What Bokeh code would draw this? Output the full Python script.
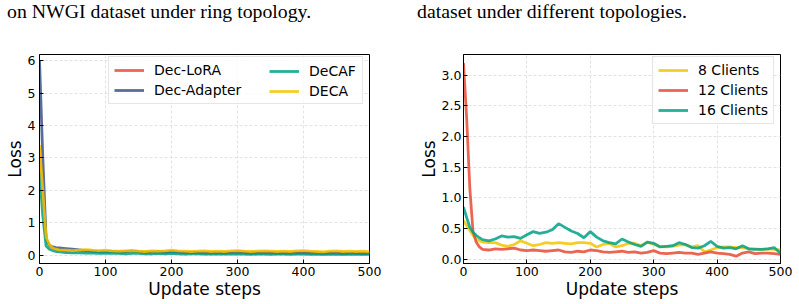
from bokeh.plotting import figure
from bokeh.layouts import row, column
from bokeh.models import Legend, LegendItem, Div, Range1d, FixedTicker
from bokeh.embed import file_html
from bokeh.resources import INLINE

# ---------------------------------------------------------------- data
STEPS = [0, 5, 10, 15, 20, 25, 30] + list(range(40, 501, 10))

# Left panel: methods on NWGI, ring topology
DEC_LORA = [3.3, 1.9, 0.5, 0.3, 0.21, 0.17, 0.15,
            0.13, 0.12, 0.13, 0.14, 0.12, 0.11, 0.12, 0.11, 0.10, 0.11,
            0.12, 0.10, 0.09, 0.10, 0.11, 0.10, 0.12, 0.10, 0.09, 0.08,
            0.09, 0.10, 0.08, 0.09, 0.08, 0.09, 0.11, 0.10, 0.08, 0.09,
            0.10, 0.09, 0.08, 0.09, 0.08, 0.09, 0.10, 0.09, 0.08, 0.07,
            0.08, 0.09, 0.08, 0.07, 0.08, 0.07, 0.07]
DEC_ADAPTER = [6.0, 3.0, 0.5, 0.3, 0.25, 0.23, 0.22,
               0.20, 0.18, 0.16, 0.14, 0.12, 0.10, 0.10, 0.11, 0.09, 0.10,
               0.12, 0.11, 0.08, 0.09, 0.10, 0.08, 0.10, 0.09, 0.07, 0.08,
               0.08, 0.06, 0.07, 0.06, 0.05, 0.07, 0.08, 0.06, 0.05, 0.06,
               0.07, 0.06, 0.05, 0.06, 0.05, 0.06, 0.07, 0.05, 0.05, 0.04,
               0.06, 0.05, 0.04, 0.05, 0.05, 0.04, 0.05]
DECAF = [2.6, 1.2, 0.28, 0.18, 0.14, 0.11, 0.10,
         0.08, 0.07, 0.07, 0.06, 0.06, 0.05, 0.06, 0.05, 0.05, 0.04,
         0.05, 0.05, 0.04, 0.04, 0.05, 0.04, 0.05, 0.04, 0.03, 0.04,
         0.04, 0.03, 0.03, 0.04, 0.03, 0.03, 0.04, 0.03, 0.02, 0.03,
         0.03, 0.02, 0.03, 0.03, 0.02, 0.03, 0.03, 0.02, 0.02, 0.03,
         0.02, 0.02, 0.02, 0.03, 0.02, 0.02, 0.02]
DECA = [3.4, 2.0, 0.55, 0.32, 0.22, 0.18, 0.16,
        0.15, 0.14, 0.15, 0.17, 0.15, 0.14, 0.15, 0.13, 0.12, 0.13,
        0.14, 0.12, 0.11, 0.13, 0.12, 0.13, 0.15, 0.13, 0.12, 0.11,
        0.12, 0.13, 0.11, 0.12, 0.11, 0.13, 0.14, 0.12, 0.11, 0.12,
        0.13, 0.12, 0.11, 0.12, 0.11, 0.13, 0.14, 0.12, 0.11, 0.10,
        0.12, 0.13, 0.11, 0.12, 0.11, 0.12, 0.10]

# Right panel: DECA with different numbers of clients
CLIENTS_8 = [0.63, 0.55, 0.47, 0.39, 0.33, 0.30, 0.28,
             0.27, 0.27, 0.23, 0.21, 0.24, 0.30, 0.26, 0.22, 0.24, 0.27,
             0.26, 0.27, 0.26, 0.25, 0.27, 0.27, 0.26, 0.20, 0.24, 0.26,
             0.20, 0.22, 0.26, 0.26, 0.22, 0.28, 0.24, 0.21, 0.20, 0.21,
             0.23, 0.24, 0.20, 0.22, 0.12, 0.15, 0.19, 0.20, 0.20, 0.19,
             0.19, 0.17, 0.17, 0.16, 0.17, 0.16, 0.15]
CLIENTS_12 = [3.2, 2.3, 1.15, 0.45, 0.28, 0.20, 0.16,
              0.15, 0.17, 0.16, 0.17, 0.18, 0.15, 0.14, 0.15, 0.14, 0.13,
              0.14, 0.15, 0.12, 0.11, 0.13, 0.12, 0.15, 0.14, 0.12, 0.11,
              0.12, 0.13, 0.11, 0.12, 0.10, 0.11, 0.14, 0.10, 0.09, 0.10,
              0.11, 0.10, 0.10, 0.08, 0.10, 0.12, 0.10, 0.09, 0.08, 0.05,
              0.10, 0.12, 0.09, 0.10, 0.10, 0.09, 0.08]
CLIENTS_16 = [0.85, 0.68, 0.52, 0.44, 0.39, 0.35, 0.32,
              0.30, 0.33, 0.38, 0.36, 0.37, 0.34, 0.40, 0.45, 0.42, 0.44,
              0.48, 0.58, 0.52, 0.46, 0.42, 0.35, 0.45, 0.36, 0.30, 0.27,
              0.25, 0.33, 0.28, 0.24, 0.21, 0.28, 0.26, 0.20, 0.21, 0.22,
              0.27, 0.24, 0.19, 0.18, 0.22, 0.29, 0.21, 0.18, 0.19, 0.17,
              0.22, 0.17, 0.16, 0.16, 0.17, 0.19, 0.10]

X_TICKS = [0, 100, 200, 300, 400, 500]
LEFT_Y_TICKS = [0, 1, 2, 3, 4, 5, 6]
RIGHT_Y_TICKS = [0.0, 0.5, 1.0, 1.5, 2.0, 2.5, 3.0]

LEFT_CAPTION = "on NWGI dataset under ring topology."
RIGHT_CAPTION = "dataset under different topologies."

RED = "#E64B35"
BLUE = "#3C5488"
TEAL = "#00A087"
YELLOW = "#F5C400"

FONT = "DejaVu Sans"
CAPTION_H = 40


def make_panel(width, y_range, yticks, yfmt, border_left, border_right):
    p = figure(width=width, height=304 - CAPTION_H, output_backend="svg",
               toolbar_location=None,
               x_range=Range1d(0, 500), y_range=Range1d(*y_range),
               min_border_left=border_left, min_border_right=border_right,
               min_border_top=54 - CAPTION_H, min_border_bottom=41)
    p.background_fill_color = "white"
    p.border_fill_color = "white"
    p.outline_line_color = "black"
    p.outline_line_width = 1
    p.outline_line_alpha = 1

    p.xaxis.ticker = FixedTicker(ticks=X_TICKS)
    p.yaxis.ticker = FixedTicker(ticks=yticks)
    p.yaxis.major_label_overrides = {t: yfmt.format(t) for t in yticks}

    for ax in (p.xaxis[0], p.yaxis[0]):
        ax.major_tick_in = 4
        ax.major_tick_out = 0
        ax.minor_tick_line_color = None
        ax.axis_line_color = "black"
        ax.major_tick_line_color = "black"
        ax.major_label_text_font = FONT
        ax.major_label_text_font_size = "12.5px"
        ax.major_label_text_color = "black"
        ax.axis_label_text_font = FONT
        ax.axis_label_text_font_size = "17px"
        ax.axis_label_text_font_style = "normal"
        ax.axis_label_text_color = "black"

    p.xaxis.axis_label = "Update steps"
    p.yaxis.axis_label = "Loss"
    p.xaxis.major_label_standoff = 3
    p.xaxis.axis_label_standoff = 0
    p.yaxis.axis_label_standoff = 0

    p.grid.grid_line_color = "#e2e2e2"
    p.grid.grid_line_dash = "3 2"
    p.grid.grid_line_width = 1
    return p


def legend_box(items, loc, label_width=20, visible_box=True):
    lg = Legend(items=items, location=loc, orientation="vertical",
                label_text_font=FONT, label_text_font_size="14px",
                label_text_color="black",
                glyph_width=30, glyph_height=16, label_height=16,
                label_standoff=10, label_width=label_width,
                padding=5, spacing=4, margin=0)
    if visible_box:
        lg.border_line_color = "#cccccc"
        lg.border_line_width = 1
        lg.background_fill_color = "white"
        lg.background_fill_alpha = 0.8
    else:
        lg.border_line_alpha = 0
        lg.background_fill_alpha = 0
    return lg


def caption(text, width, indent):
    return Div(text=text, width=width, height=CAPTION_H, margin=0,
               styles={"font-family": "'Liberation Serif'",
                       "font-size": "19.8px",
                       "line-height": "22px",
                       "padding-left": f"{indent}px",
                       "box-sizing": "border-box",
                       "white-space": "nowrap",
                       "color": "black",
                       "background": "white"})


# ---------------------------------------------------------------- left panel
left = make_panel(400, (-0.26, 6.19), LEFT_Y_TICKS, "{:d}", 39, 31)
left.yaxis.major_label_standoff = 4
lw, la = 2.8, 0.85
r_lora = left.line(STEPS, DEC_LORA, color=RED, line_width=lw, line_alpha=la)
r_adapter = left.line(STEPS, DEC_ADAPTER, color=BLUE, line_width=lw, line_alpha=la)
r_decaf = left.line(STEPS, DECAF, color=TEAL, line_width=lw, line_alpha=la)
r_deca = left.line(STEPS, DECA, color=YELLOW, line_width=lw, line_alpha=la)

left.add_layout(legend_box([LegendItem(label="Dec-LoRA", renderers=[r_lora]),
                            LegendItem(label="Dec-Adapter", renderers=[r_adapter])],
                           (69, 159), label_width=203))
left.add_layout(legend_box([LegendItem(label="DeCAF", renderers=[r_decaf]),
                            LegendItem(label="DECA", renderers=[r_deca])],
                           (225, 159), visible_box=False))

# ---------------------------------------------------------------- right panel
right = make_panel(399, (-0.07, 3.34), RIGHT_Y_TICKS, "{:.1f}", 63, 19)
right.yaxis.major_label_standoff = 2
r8 = right.line(STEPS, CLIENTS_8, color=YELLOW, line_width=lw, line_alpha=la)
r12 = right.line(STEPS, CLIENTS_12, color=RED, line_width=lw, line_alpha=la)
r16 = right.line(STEPS, CLIENTS_16, color=TEAL, line_width=lw, line_alpha=la)

right.add_layout(legend_box([LegendItem(label="8 Clients", renderers=[r8]),
                             LegendItem(label="12 Clients", renderers=[r12]),
                             LegendItem(label="16 Clients", renderers=[r16])],
                            (189, 139)))

layout = column(
    row(caption(LEFT_CAPTION, 400, 7), caption(RIGHT_CAPTION, 399, 17), spacing=0),
    row(left, right, spacing=0),
    spacing=0,
)
open("out.html", "w").write(file_html(layout, INLINE))
